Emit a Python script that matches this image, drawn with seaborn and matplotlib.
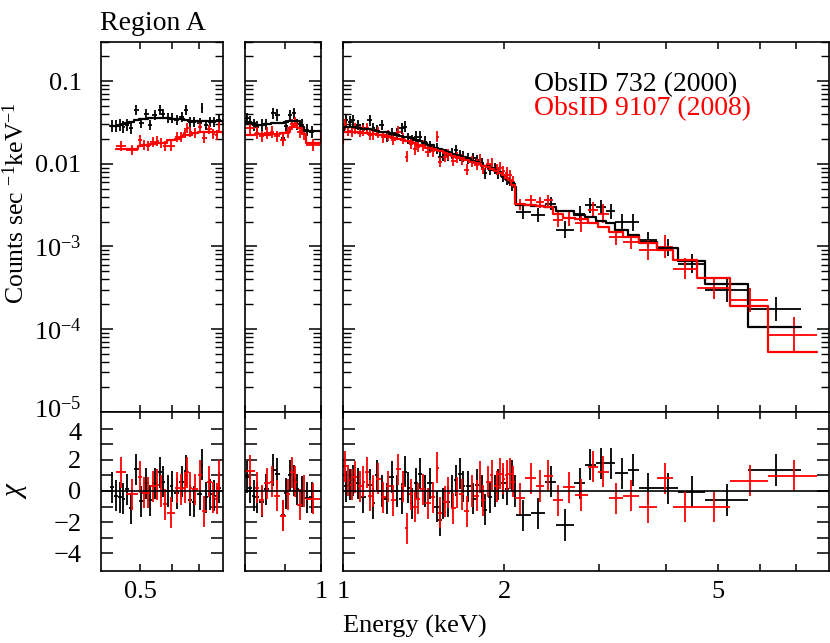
import numpy as np
import matplotlib
matplotlib.use('Agg')
import matplotlib.pyplot as plt
import matplotlib.ticker as ticker
import matplotlib.transforms as mtransforms
import seaborn as sns

# ObsID 732 (2000) - black. energy bin centre / half width (keV)
blk_e = [0.426, 0.436, 0.446, 0.454, 0.463, 0.475, 0.489, 0.503, 0.518, 0.530,
         0.543, 0.559, 0.569, 0.586, 0.598, 0.615, 0.633, 0.649, 0.664, 0.680,
         0.701, 0.710, 0.728, 0.745, 0.763, 0.782,
         0.805, 0.812, 0.821, 0.829, 0.840, 0.852, 0.869, 0.880, 0.894, 0.902,
         0.913, 0.924, 0.933, 0.945, 0.959, 0.973,
         1.013, 1.031, 1.045, 1.068, 1.091, 1.123, 1.139, 1.156, 1.181, 1.206,
         1.233, 1.259, 1.286, 1.305, 1.324, 1.343, 1.368, 1.392, 1.422, 1.453,
         1.496, 1.517, 1.539, 1.572, 1.595, 1.625, 1.653, 1.677, 1.713, 1.751,
         1.776, 1.815, 1.840, 1.880, 1.921, 1.949, 1.991, 2.020, 2.064, 2.094,
         2.17, 2.31, 2.44, 2.60, 2.765, 2.895, 3.03, 3.16, 3.31, 3.48,
         3.705, 4.035, 4.475, 5.215, 6.435]
blk_ex = [0.005, 0.005, 0.005, 0.004, 0.005, 0.006, 0.007, 0.007, 0.007, 0.006,
          0.007, 0.007, 0.006, 0.008, 0.006, 0.009, 0.009, 0.008, 0.008, 0.008,
          0.009, 0.005, 0.009, 0.008, 0.009, 0.010,
          0.004, 0.004, 0.004, 0.005, 0.006, 0.006, 0.006, 0.006, 0.006, 0.005,
          0.006, 0.005, 0.005, 0.006, 0.007, 0.008,
          0.009, 0.009, 0.009, 0.011, 0.012, 0.012, 0.008, 0.009, 0.012, 0.012,
          0.013, 0.013, 0.012, 0.010, 0.010, 0.010, 0.012, 0.013, 0.015, 0.016,
          0.018, 0.011, 0.012, 0.014, 0.012, 0.015, 0.013, 0.013, 0.018, 0.017,
          0.014, 0.019, 0.014, 0.019, 0.020, 0.016, 0.020, 0.017, 0.022, 0.012,
          0.07, 0.07, 0.06, 0.10, 0.065, 0.065, 0.07, 0.06, 0.09, 0.08,
          0.145, 0.185, 0.255, 0.485, 0.735]
blk_flux = [0.0286, 0.0286, 0.0294, 0.0280, 0.0294, 0.0268, 0.0447, 0.0310, 0.0400, 0.0294,
            0.0388, 0.0447, 0.0400, 0.0354, 0.0354, 0.0338, 0.0370, 0.0447, 0.0322, 0.0322,
            0.0310, 0.0470, 0.0294, 0.0322, 0.0322, 0.0338,
            0.0354, 0.0322, 0.0294, 0.0280, 0.0294, 0.0300, 0.0407, 0.0390, 0.0203, 0.0290,
            0.0385, 0.0407, 0.0300, 0.0294, 0.0255, 0.0244,
            0.0337, 0.0322, 0.0337, 0.0294, 0.0268, 0.0337, 0.0268, 0.0255, 0.0294, 0.0212,
            0.0233, 0.0233, 0.0268, 0.0280, 0.0203, 0.0194, 0.0212, 0.0212, 0.0185, 0.0161,
            0.0153, 0.0122, 0.0127, 0.0127, 0.0134, 0.0147, 0.0127, 0.0122, 0.0116, 0.0116,
            0.0111, 0.0101, 0.0077, 0.0084, 0.0088, 0.0077, 0.0070, 0.0064, 0.0055, 0.0050,
            2.6e-3, 2.4e-3, 3.3e-3, 1.6e-3, 2.5e-3, 3.15e-3, 3.0e-3, 2.65e-3, 1.95e-3, 1.95e-3,
            1.2e-3, 9.7e-4, 6.2e-4, 3.0e-4, 1.75e-4]
blk_model = [0.0290, 0.0290, 0.0295, 0.0300, 0.0310, 0.0320, 0.0335, 0.0345, 0.0350, 0.0355,
             0.0355, 0.0355, 0.0355, 0.0355, 0.0350, 0.0350, 0.0345, 0.0340, 0.0330, 0.0330,
             0.0330, 0.0330, 0.0330, 0.0330, 0.0330, 0.0330,
             0.0310, 0.0310, 0.0310, 0.0295, 0.0295, 0.0300, 0.0310, 0.0310, 0.0310, 0.0320,
             0.0330, 0.0330, 0.0330, 0.0280, 0.0250, 0.0250,
             0.0280, 0.0278, 0.0275, 0.0270, 0.0265, 0.0260, 0.0255, 0.0250, 0.0245, 0.0240,
             0.0232, 0.0225, 0.0218, 0.0212, 0.0208, 0.0203, 0.0195, 0.0187, 0.0178, 0.0168,
             0.0155, 0.0150, 0.0145, 0.0138, 0.0133, 0.0128, 0.0123, 0.0120, 0.0114, 0.0109,
             0.0105, 0.0099, 0.0094, 0.0089, 0.0083, 0.0079, 0.0072, 0.0066, 0.0058, 0.0052,
             3.2e-3, 3.1e-3, 3.0e-3, 2.7e-3, 2.4e-3, 2.25e-3, 2.05e-3, 1.9e-3, 1.6e-3, 1.37e-3,
             1.14e-3, 9.5e-4, 6.65e-4, 3.48e-4, 1.07e-4]
blk_dex = [0.07, 0.07, 0.07, 0.07, 0.07, 0.07, 0.06, 0.06, 0.06, 0.06,
           0.06, 0.06, 0.06, 0.06, 0.06, 0.06, 0.06, 0.06, 0.06, 0.06,
           0.06, 0.06, 0.06, 0.06, 0.06, 0.06,
           0.07, 0.07, 0.07, 0.07, 0.07, 0.07, 0.07, 0.07, 0.07, 0.07,
           0.07, 0.07, 0.07, 0.07, 0.07, 0.07,
           0.065, 0.065, 0.065, 0.065, 0.065, 0.065, 0.065, 0.065, 0.065, 0.065,
           0.065, 0.065, 0.065, 0.065, 0.065, 0.065, 0.065, 0.065, 0.065, 0.065,
           0.065, 0.065, 0.065, 0.065, 0.065, 0.065, 0.065, 0.065, 0.065, 0.065,
           0.065, 0.065, 0.065, 0.065, 0.065, 0.065, 0.065, 0.065, 0.065, 0.065,
           0.08, 0.08, 0.08, 0.10, 0.09, 0.09, 0.09, 0.09, 0.10, 0.10,
           0.09, 0.10, 0.12, 0.15, 0.14]
blk_chi = [0.24, -0.3, -0.4, -0.5, 0.1, -1.1, 1.4, -0.65, 0.5, -0.6,
           0.5, 1.2, 0.6, 0.0, 0.3, -0.15, 0.6, 1.3, -0.6, -0.7,
           -0.2, 1.7, -0.4, -0.2, -0.3, 0.2,
           0.9, 0.2, -0.3, -0.4, -0.7, 0.1, 1.35, 1.1, -1.55, -0.15,
           1.0, 0.7, 0.1, -0.05, -0.45, -0.4,
           0.3, 0.4, 0.7, 0.5, -0.4, 0.4, -0.8, 1.0, 0.0, -0.5,
           0.9, 0.0, -0.5, 1.25, 0.2, -0.8, 0.5, 1.1, 0.0, 0.5,
           -1.0, -1.9, -0.8, -0.7, 0.0, 0.7, 1.1, 0.3, 0.3, -0.5,
           0.4, 0.0, -1.2, -0.4, 0.0, 0.4, 0.5, 0.1, 1.0, 0.0,
           -1.55, -1.44, 0.6, -2.19, 0.49, 1.68, 1.78, 1.78, 1.14, 1.35,
           0.17, 0.17, -0.04, -0.58, 1.35]

# ObsID 9107 (2008) - red
red_e = [0.449, 0.4775, 0.499, 0.511, 0.523, 0.5375, 0.551, 0.5635, 0.577, 0.596,
         0.6175, 0.6325, 0.6445, 0.6545, 0.6645, 0.683, 0.7035, 0.7205, 0.741, 0.759,
         0.773, 0.785,
         0.812, 0.829, 0.840, 0.853, 0.866, 0.879, 0.894, 0.907, 0.918, 0.927,
         0.939, 0.952, 0.977,
         1.009, 1.023, 1.038, 1.053, 1.076, 1.091, 1.107, 1.123, 1.139, 1.164,
         1.189, 1.215, 1.241, 1.268, 1.296, 1.315, 1.338, 1.362, 1.382, 1.408,
         1.443, 1.474, 1.500, 1.517, 1.550, 1.572, 1.606, 1.630, 1.665, 1.701,
         1.739, 1.776, 1.802, 1.827, 1.867, 1.894, 1.935, 1.963, 1.991, 2.020,
         2.049, 2.078,
         2.142, 2.24, 2.33, 2.415, 2.515, 2.64, 2.785, 2.925, 3.06, 3.23,
         3.445, 3.705, 3.99, 4.35, 4.92, 5.745, 6.935]
red_ex = [0.013, 0.0155, 0.006, 0.006, 0.006, 0.0085, 0.005, 0.0075, 0.006, 0.013,
          0.0085, 0.0065, 0.0055, 0.0045, 0.0055, 0.013, 0.0075, 0.0095, 0.011, 0.007,
          0.007, 0.005,
          0.012, 0.005, 0.006, 0.007, 0.006, 0.007, 0.008, 0.005, 0.006, 0.004,
          0.008, 0.005, 0.020,
          0.008, 0.007, 0.008, 0.008, 0.010, 0.007, 0.009, 0.008, 0.010, 0.012,
          0.012, 0.013, 0.013, 0.014, 0.011, 0.010, 0.012, 0.011, 0.011, 0.015,
          0.018, 0.013, 0.010, 0.010, 0.013, 0.011, 0.016, 0.012, 0.018, 0.018,
          0.019, 0.017, 0.011, 0.015, 0.018, 0.014, 0.019, 0.014, 0.015, 0.014,
          0.015, 0.016,
          0.048, 0.05, 0.04, 0.045, 0.055, 0.07, 0.075, 0.065, 0.07, 0.10,
          0.115, 0.145, 0.14, 0.22, 0.35, 0.475, 0.715]
red_flux = [0.0165, 0.0147, 0.0194, 0.0168, 0.0163, 0.0185, 0.0190, 0.0180, 0.0163, 0.0165,
            0.0212, 0.0212, 0.0233, 0.0270, 0.0244, 0.0235, 0.0275, 0.0203, 0.0260, 0.0228,
            0.0225, 0.0280,
            0.0268, 0.0235, 0.0215, 0.0235, 0.0244, 0.0215, 0.0194, 0.0238, 0.0300, 0.0315,
            0.0240, 0.0228, 0.0170,
            0.0300, 0.0250, 0.0247, 0.0268, 0.0244, 0.0255, 0.0268, 0.0225, 0.0228, 0.0240,
            0.0210, 0.0218, 0.0195, 0.0244, 0.0203, 0.0122, 0.0175, 0.0150, 0.0160, 0.0168,
            0.0140, 0.0141, 0.0212, 0.0105, 0.0122, 0.0129, 0.0108, 0.0119, 0.0113, 0.0085,
            0.0106, 0.0097, 0.0112, 0.0087, 0.0099, 0.0100, 0.0085, 0.0090, 0.0082, 0.0078,
            0.0073, 0.0061,
            3.2e-3, 3.6e-3, 3.4e-3, 3.6e-3, 2.1e-3, 2.2e-3, 1.9e-3, 2.75e-3, 2.5e-3, 1.3e-3,
            1.14e-3, 9.0e-4, 9.9e-4, 5.4e-4, 3.1e-4, 2.25e-4, 8.5e-5]
red_model = [0.0150, 0.0153, 0.0165, 0.0168, 0.0168, 0.0175, 0.0180, 0.0180, 0.0180, 0.0195,
             0.0202, 0.0210, 0.0222, 0.0222, 0.0225, 0.0235, 0.0240, 0.0242, 0.0242, 0.0242,
             0.0242, 0.0242,
             0.0225, 0.0228, 0.0228, 0.0226, 0.0228, 0.0228, 0.0235, 0.0245, 0.0275, 0.0300,
             0.0270, 0.0228, 0.0180,
             0.0245, 0.0244, 0.0243, 0.0241, 0.0238, 0.0236, 0.0234, 0.0232, 0.0230, 0.0225,
             0.0220, 0.0213, 0.0207, 0.0200, 0.0193, 0.0188, 0.0182, 0.0176, 0.0171, 0.0165,
             0.0157, 0.0150, 0.0145, 0.0141, 0.0135, 0.0131, 0.0125, 0.0121, 0.0116, 0.0111,
             0.0106, 0.0101, 0.0098, 0.0095, 0.0091, 0.0087, 0.0082, 0.0078, 0.0073, 0.0068,
             0.0063, 0.0056,
             3.3e-3, 3.2e-3, 3.1e-3, 3.0e-3, 2.5e-3, 2.2e-3, 2.15e-3, 1.9e-3, 1.73e-3, 1.51e-3,
             1.31e-3, 1.09e-3, 9.0e-4, 6.85e-4, 4.11e-4, 1.9e-4, 5.33e-5]
red_dex = [0.06, 0.06, 0.06, 0.06, 0.06, 0.06, 0.06, 0.06, 0.06, 0.06,
           0.06, 0.06, 0.06, 0.06, 0.06, 0.06, 0.06, 0.06, 0.06, 0.06,
           0.06, 0.06,
           0.07, 0.07, 0.07, 0.07, 0.07, 0.07, 0.07, 0.07, 0.07, 0.07,
           0.07, 0.07, 0.07,
           0.065, 0.065, 0.065, 0.065, 0.065, 0.065, 0.065, 0.065, 0.065, 0.065,
           0.065, 0.065, 0.065, 0.065, 0.065, 0.065, 0.065, 0.065, 0.065, 0.065,
           0.065, 0.065, 0.065, 0.065, 0.065, 0.065, 0.065, 0.065, 0.065, 0.065,
           0.065, 0.065, 0.065, 0.065, 0.065, 0.065, 0.065, 0.065, 0.065, 0.065,
           0.065, 0.065,
           0.07, 0.07, 0.07, 0.07, 0.09, 0.09, 0.10, 0.10, 0.12, 0.10,
           0.09, 0.12, 0.14, 0.13, 0.13, 0.14, 0.22]
red_chi = [1.2, -0.2, 0.9, -0.1, -0.1, 0.3, 0.4, 0.0, -0.85, -1.4,
           0.2, 0.1, 0.2, 1.2, 0.2, 0.1, 1.0, -1.3, 0.6, -0.4,
           -0.5, 1.0,
           1.3, 0.2, -0.6, 0.5, 0.6, -0.3, -1.6, -0.2, 1.2, 0.6,
           -0.9, 0.0, -0.5,
           1.6, 0.7, 0.4, 0.9, 0.3, 0.6, 1.2, -0.3, 0.0, 0.8,
           -0.4, 0.3, -0.6, 1.4, 0.3, -2.4, -0.2, -1.0, -0.5, 0.1,
           -0.8, -0.4, 1.5, -1.4, -0.7, -0.1, -1.1, -0.1, -0.2, -1.3,
           0.0, -0.3, 0.9, -0.6, 0.6, 1.0, 0.3, 1.1, 0.8, 1.0,
           1.1, 0.6,
           -0.47, 0.82, 0.32, 0.97, -0.6, 0.24, -0.26, 1.57, 1.25, -0.47,
           -0.32, -1.05, 0.82, -1.01, -1.01, 0.67, 0.97]

# panel x ranges (keV) and tick labels
panel_ranges = [(0.4, 0.8), (0.8, 1.0), (1.0, 8.07)]
panel_ticks = [[0.5, 0.6, 0.7], [0.8, 0.9, 1.0], [1, 2, 3, 4, 5, 6, 7]]
panel_labels = [['0.5', '', ''], ['', '', '1'], ['1', '2', '', '', '5', '', '']]
flux_ticks = [1e-5, 1e-4, 1e-3, 1e-2, 1e-1]
flux_labels = ['$10^{-5}$', '$10^{-4}$', '$10^{-3}$', '0.01', '0.1']
chi_ticks = [-4, -3, -2, -1, 0, 1, 2, 3, 4]

sns.set_theme(style='ticks', rc={'axes.edgecolor': 'black', 'text.color': 'black',
                                 'xtick.color': 'black', 'ytick.color': 'black',
                                 'axes.labelcolor': 'black', 'axes.linewidth': 1.2})
plt.rcParams['font.family'] = ['Liberation Serif', 'DejaVu Serif']
plt.rcParams['mathtext.fontset'] = 'custom'
plt.rcParams['mathtext.rm'] = 'Liberation Serif'
plt.rcParams['mathtext.it'] = 'Liberation Serif:italic'
plt.rcParams['mathtext.bf'] = 'Liberation Serif:bold'

fig = plt.figure(figsize=(8.3, 6.43), dpi=100)
W, H = 830.0, 643.0
xpix = [(101, 222.7), (245, 321), (343, 829)]
top_y = (41.7, 411.7)
bot_y = (411.7, 571)

datasets = [
    (np.array(blk_e), np.array(blk_ex), np.array(blk_flux), np.array(blk_model),
     np.array(blk_dex), np.array(blk_chi), 'black'),
    (np.array(red_e), np.array(red_ex), np.array(red_flux), np.array(red_model),
     np.array(red_dex), np.array(red_chi), '#ff0000'),
]

for i, (x0, x1) in enumerate(xpix):
    ax_t = fig.add_axes([x0 / W, 1 - top_y[1] / H, (x1 - x0) / W, (top_y[1] - top_y[0]) / H])
    ax_b = fig.add_axes([x0 / W, 1 - bot_y[1] / H, (x1 - x0) / W, (bot_y[1] - bot_y[0]) / H])

    for e, ex, f, m, d, chi, c in datasets:
        # data crosses
        ax_t.errorbar(e, f, xerr=ex, yerr=[f - f / 10 ** d, f * 10 ** d - f],
                      fmt='none', ecolor=c, elinewidth=1.3, capsize=0)
        ax_b.errorbar(e, chi, xerr=ex, yerr=1.0, fmt='none', ecolor=c,
                      elinewidth=1.3, capsize=0)
    for e, ex, f, m, d, chi, c in datasets:
        # folded model as a histogram
        edges = np.append(e - ex, e[-1] + ex[-1])
        sns.lineplot(x=edges, y=np.append(m, m[-1]), drawstyle='steps-post',
                     color=c, linewidth=1.6, ax=ax_t, legend=False,
                     sort=False, estimator=None)
    ax_b.axhline(0, color='black', linewidth=1.2)

    lo, hi = panel_ranges[i]
    for ax in (ax_t, ax_b):
        ax.set_xscale('log')
        ax.set_xlim(lo, hi)
        ax.xaxis.set_major_locator(ticker.FixedLocator(panel_ticks[i]))
        ax.xaxis.set_minor_locator(ticker.NullLocator())
        ax.tick_params(axis='x', which='both', direction='in', top=True, bottom=True,
                       length=5, width=1.1, labelsize=19, pad=7)
        ax.tick_params(axis='y', which='major', direction='in', left=True, right=True,
                       length=8.5, width=1.1, labelsize=19, pad=14)
        ax.tick_params(axis='y', which='minor', direction='in', left=True, right=True,
                       length=5.5, width=1.0)
        ax.set_xlabel('')
        ax.set_ylabel('')

    ax_t.set_yscale('log')
    ax_t.set_ylim(1e-5, 0.3)
    ax_t.yaxis.set_major_locator(ticker.FixedLocator(flux_ticks))
    ax_t.yaxis.set_minor_locator(ticker.LogLocator(base=10, subs=np.arange(2, 10), numticks=20))
    ax_t.yaxis.set_minor_formatter(ticker.NullFormatter())
    ax_t.tick_params(axis='x', labelbottom=False)

    ax_b.set_ylim(-5.15, 5.1)
    ax_b.yaxis.set_major_locator(ticker.FixedLocator(chi_ticks))
    ax_b.set_xticklabels(panel_labels[i])

    if i == 0:
        ax_t.set_yticklabels(flux_labels)
        ax_b.set_yticklabels([str(v).replace('-', '\u2212') if v % 2 == 0 else ''
                              for v in chi_ticks])
        # nudge the two labels that meet at the panel join apart a little
        lab5 = ax_t.yaxis.get_major_ticks()[0].label1
        lab5.set_transform(lab5.get_transform() +
                           mtransforms.ScaledTranslation(0, 3 / 72, fig.dpi_scale_trans))
        lab4 = ax_b.yaxis.get_major_ticks()[-1].label1
        lab4.set_transform(lab4.get_transform() +
                           mtransforms.ScaledTranslation(0, -2 / 72, fig.dpi_scale_trans))
    else:
        ax_t.tick_params(axis='y', labelleft=False)
        ax_b.tick_params(axis='y', labelleft=False)

fig.text(100 / W, 1 - 29.5 / H, 'Region A', fontsize=20, ha='left', va='baseline')
fig.text(534 / W, 1 - 90.7 / H, 'ObsID 732 (2000)', fontsize=20, color='black',
         ha='left', va='baseline')
fig.text(534 / W, 1 - 115 / H, 'ObsID 9107 (2008)', fontsize=20, color='#ff0000',
         ha='left', va='baseline')
fig.text(16 / W, 1 - 203 / H, 'Counts sec $^{-1}$keV$^{-1}$', fontsize=18.5,
         rotation=90, ha='center', va='center')
fig.text(16 / W, 1 - 490 / H, r'$\chi$', fontsize=21, rotation=90, ha='center', va='center')
fig.text(0.5, 1 - 633 / H, 'Energy (keV)', fontsize=19, ha='center', va='baseline')

fig.savefig('out.png', dpi=100)
